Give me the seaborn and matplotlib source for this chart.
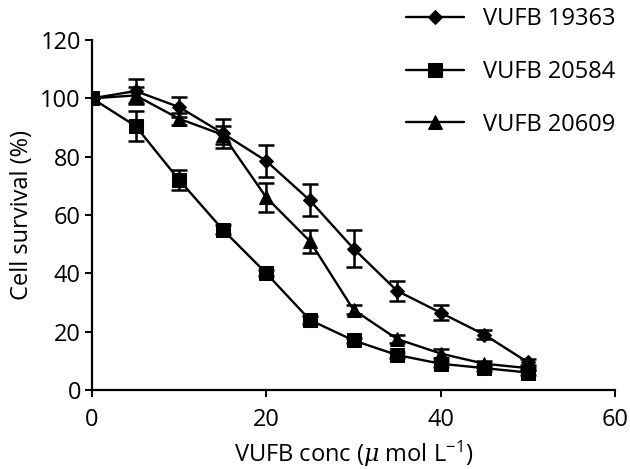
import matplotlib
matplotlib.use("Agg")
import matplotlib.pyplot as plt
import seaborn as sns
import pandas as pd
import numpy as np

conc = [0, 5, 10, 15, 20, 25, 30, 35, 40, 45, 50]
series_names = ["VUFB 19363", "VUFB 20584", "VUFB 20609"]
v19363 = [100, 102.5, 97, 88, 78.5, 65, 48.5, 34, 26.5, 19, 9.5]
e19363 = [0, 4, 3.5, 5, 5.5, 5.5, 6.3, 3.5, 2.5, 1.5, 1]
v20584 = [100, 90.5, 72, 55, 40, 24, 17, 12, 9, 7.5, 6]
e20584 = [0, 5, 3.5, 1.5, 1, 1.5, 1, 1, 1, 1, 1]
v20609 = [100, 101, 93, 87.5, 66, 51, 27.5, 17.5, 12.5, 9, 7.5]
e20609 = [0, 3, 2, 3, 5, 4, 1.5, 1.5, 1.5, 1, 0.5]
x_ticks = [0, 20, 40, 60]
y_ticks = [0, 20, 40, 60, 80, 100, 120]

sns.set_theme(style="ticks")
plt.rcParams["font.family"] = ["Open Sans", "DejaVu Sans"]
plt.rcParams["mathtext.fontset"] = "custom"
plt.rcParams["mathtext.rm"] = "Open Sans"
plt.rcParams["mathtext.it"] = "DejaVu Serif:italic"
plt.rcParams["text.color"] = "black"
plt.rcParams["axes.labelcolor"] = "black"

FS = 17

df = pd.DataFrame({
    "conc": conc * 3,
    "survival": v19363 + v20584 + v20609,
    "err": e19363 + e20584 + e20609,
    "series": [n for n in series_names for _ in conc],
})

fig = plt.figure(figsize=(6.3, 4.69), dpi=100)
ax = fig.add_axes([92 / 630, 1 - 390 / 469, (615 - 92) / 630, (390 - 40) / 469])

markers = {"VUFB 19363": "D", "VUFB 20584": "s", "VUFB 20609": "^"}
msizes = {"VUFB 19363": 7.5, "VUFB 20584": 10, "VUFB 20609": 10.5}

for name in series_names:
    sub = df[df["series"] == name]
    ax.errorbar(sub["conc"], sub["survival"], yerr=sub["err"], fmt="none",
                ecolor="black", elinewidth=1.8, capsize=5.5, capthick=1.8, zorder=2)
    sns.lineplot(data=sub, x="conc", y="survival", ax=ax, color="black",
                 marker=markers[name], markersize=msizes[name], markeredgecolor="black",
                 markerfacecolor="black", linewidth=1.7, label=name, zorder=3)

ax.set_xlim(0, 60)
ax.set_ylim(0, 120)
ax.set_xticks(x_ticks)
ax.set_yticks(y_ticks)
ax.tick_params(direction="out", length=5, width=1.4, labelsize=FS, colors="black", pad=3)
ax.tick_params(axis="x", pad=8)
for s in ["top", "right"]:
    ax.spines[s].set_visible(False)
for s in ["left", "bottom"]:
    ax.spines[s].set_linewidth(1.6)
    ax.spines[s].set_color("black")
ax.set_xlabel(r"VUFB conc ($\mathit{\mu}$ mol L$^{-1}$)", fontsize=FS, labelpad=4.5)
ax.set_ylabel("Cell survival (%)", fontsize=FS, labelpad=4.5)

ax.get_legend().remove()
handles, labels = ax.get_legend_handles_labels()
fig.legend(handles, labels, loc="upper left", bbox_to_anchor=(406 / 630, 1 - 7 / 469),
           frameon=False, fontsize=FS, handlelength=2.45, labelspacing=1.22,
           borderpad=0, borderaxespad=0, handletextpad=0.8)

fig.savefig("out.png", dpi=100)
